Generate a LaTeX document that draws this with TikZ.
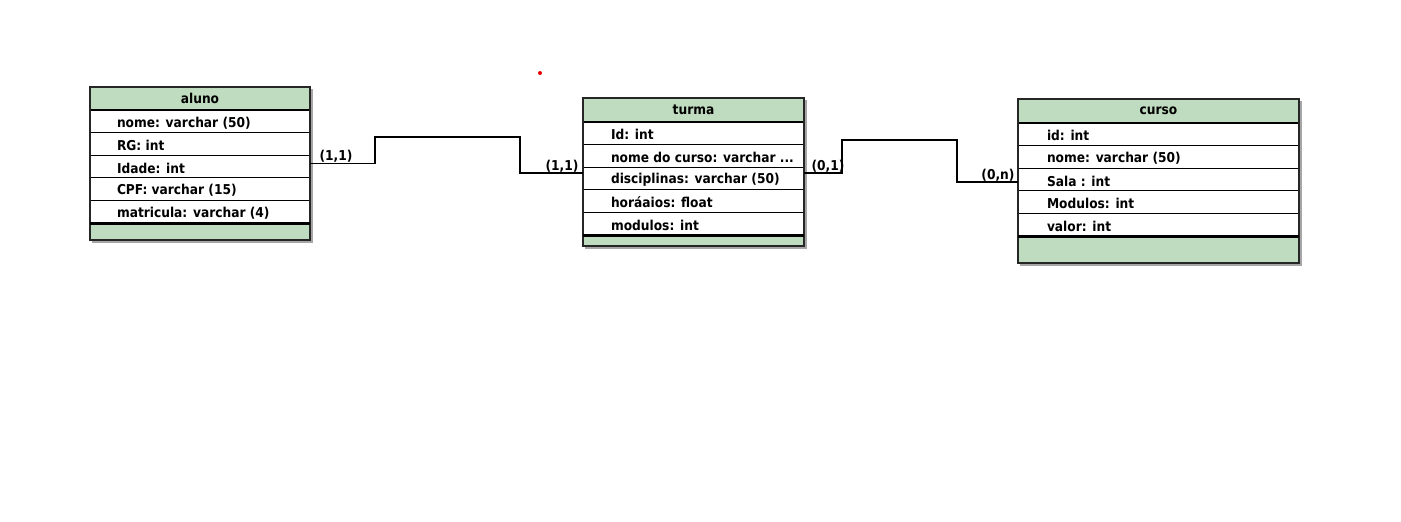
\documentclass[tikz,border=0pt]{standalone}
\usepackage{fontspec}
\setmainfont{DejaVu Sans Condensed}
\begin{document}
\begin{tikzpicture}[x=1pt,y=-1pt,
  font=\fontsize{13.6}{15}\selectfont\bfseries,
  every node/.style={outer sep=0pt},
  hdr/.style={draw=black, line width=1.2pt, fill=ergreen, anchor=north west, inner sep=0pt, minimum height=23pt},
  rowbox/.style={draw=black, line width=1.2pt, fill=white, anchor=north west, inner sep=0pt, minimum height=22.6pt},
  foot/.style={fill=ergreen, anchor=north west, inner sep=0pt},
  attr/.style={anchor=west, inner sep=0pt, text=black, yshift=-1.5pt},
  card/.style={inner sep=0pt, text=black},
  conn/.style={draw=black, line width=1.2pt},
  frame/.style={draw=black!85, line width=1.8pt},
  shadowbox/.style={fill=black!35},
]
\definecolor{ergreen}{RGB}{192,220,192}
\useasboundingbox (0,0) rectangle (1401,522);

% ---------- aluno ----------
\fill[shadowbox] (92,89) rectangle (313,243);
\node[hdr, minimum width=220pt] (aluno) at (90,87) {aluno};
\node[rowbox, minimum width=220pt] (aluno-1) at (aluno.south west) {};
\node[rowbox, minimum width=220pt] (aluno-2) at (aluno-1.south west) {};
\node[rowbox, minimum width=220pt] (aluno-3) at (aluno-2.south west) {};
\node[rowbox, minimum width=220pt] (aluno-4) at (aluno-3.south west) {};
\node[rowbox, minimum width=220pt] (aluno-5) at (aluno-4.south west) {};
\node[foot, minimum width=220pt, minimum height=17pt] (aluno-f) at (aluno-5.south west) {};
\draw[frame] (aluno.north west) rectangle (aluno-f.south east);
\draw[black, line width=3pt] (aluno-5.south west) -- (aluno-5.south east);
\node[attr] (aluno-1t) at ([xshift=27pt]aluno-1.west) {nome: varchar (50)};
\node[attr] (aluno-2t) at ([xshift=27pt]aluno-2.west) {RG: int};
\node[attr] (aluno-3t) at ([xshift=27pt]aluno-3.west) {Idade: int};
\node[attr] (aluno-4t) at ([xshift=27pt]aluno-4.west) {CPF: varchar (15)};
\node[attr] (aluno-5t) at ([xshift=27pt]aluno-5.west) {matricula: varchar (4)};

% ---------- turma ----------
\fill[shadowbox] (585,100) rectangle (807,249);
\node[hdr, minimum width=221pt, minimum height=24pt] (turma) at (583,98) {turma};
\node[rowbox, minimum width=221pt] (turma-1) at (turma.south west) {};
\node[rowbox, minimum width=221pt] (turma-2) at (turma-1.south west) {};
\node[rowbox, minimum width=221pt] (turma-3) at (turma-2.south west) {};
\node[rowbox, minimum width=221pt] (turma-4) at (turma-3.south west) {};
\node[rowbox, minimum width=221pt] (turma-5) at (turma-4.south west) {};
\node[foot, minimum width=221pt, minimum height=11pt] (turma-f) at (turma-5.south west) {};
\draw[frame] (turma.north west) rectangle (turma-f.south east);
\draw[black, line width=3pt] (turma-5.south west) -- (turma-5.south east);
\node[attr] (turma-1t) at ([xshift=28pt]turma-1.west) {Id: int};
\node[attr] (turma-2t) at ([xshift=28pt]turma-2.west) {nome do curso: varchar ...};
\node[attr] (turma-3t) at ([xshift=28pt]turma-3.west) {disciplinas: varchar (50)};
\node[attr] (turma-4t) at ([xshift=28pt]turma-4.west) {horáaios: float};
\node[attr] (turma-5t) at ([xshift=28pt]turma-5.west) {modulos: int};

% ---------- curso ----------
\fill[shadowbox] (1020,101) rectangle (1302,266);
\node[hdr, minimum width=281pt, minimum height=24pt] (curso) at (1018,99) {curso};
\node[rowbox, minimum width=281pt] (curso-1) at (curso.south west) {};
\node[rowbox, minimum width=281pt] (curso-2) at (curso-1.south west) {};
\node[rowbox, minimum width=281pt] (curso-3) at (curso-2.south west) {};
\node[rowbox, minimum width=281pt] (curso-4) at (curso-3.south west) {};
\node[rowbox, minimum width=281pt] (curso-5) at (curso-4.south west) {};
\node[foot, minimum width=281pt, minimum height=27pt] (curso-f) at (curso-5.south west) {};
\draw[frame] (curso.north west) rectangle (curso-f.south east);
\draw[black, line width=3pt] (curso-5.south west) -- (curso-5.south east);
\node[attr] (curso-1t) at ([xshift=29pt]curso-1.west) {id: int};
\node[attr] (curso-2t) at ([xshift=29pt]curso-2.west) {nome: varchar (50)};
\node[attr] (curso-3t) at ([xshift=29pt]curso-3.west) {Sala : int};
\node[attr] (curso-4t) at ([xshift=29pt]curso-4.west) {Modulos: int};
\node[attr] (curso-5t) at ([xshift=29pt]curso-5.west) {valor: int};

% ---------- connectors ----------
\coordinate (a-out) at (aluno.east |- 0,163.5);
\coordinate (t-in) at (turma.west |- 0,173);
\coordinate (t-out) at (turma.east |- 0,173);
\coordinate (c-in) at (curso.west |- 0,182);
\draw[conn] (a-out) -- (375,163.5) -- (375,137) -- (520,137) -- (520,173) -- (t-in);
\draw[conn] (t-out) -- (842,173) -- (842,140) -- (957,140) -- (957,182) -- (c-in);

\node[card] (lab1) at (336,156) {(1,1)};
\node[card] (lab2) at (562,166) {(1,1)};
\node[card] (lab3) at (828,166) {(0,1)};
\node[card] (lab4) at (998,175) {(0,n)};

% red dot
\fill[red!90!black] (540,73) circle (2pt);
\end{tikzpicture}
\end{document}
